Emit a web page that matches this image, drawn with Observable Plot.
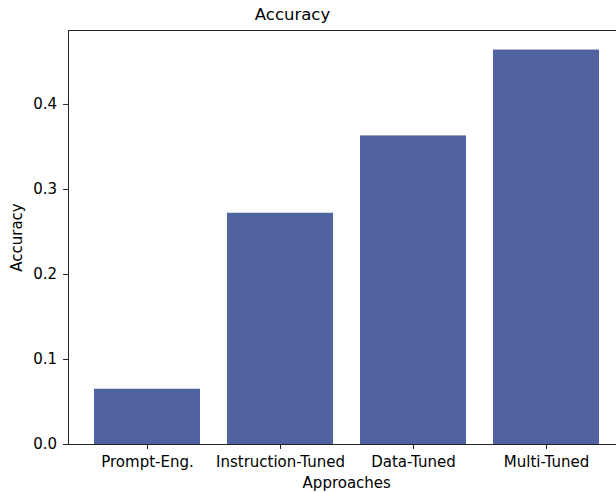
<!DOCTYPE html>
<html>
<head>
<meta charset="utf-8">
<script src="https://cdn.jsdelivr.net/npm/d3@7"></script>
<script src="https://cdn.jsdelivr.net/npm/@observablehq/plot@0.6"></script>
<style>
  html, body { margin: 0; padding: 0; background: white; overflow: hidden; }
  #chart { width: 616px; height: 492px; overflow: hidden; }
</style>
</head>
<body>
<div id="chart"></div>
<script>
const approaches = ["Prompt-Eng.", "Instruction-Tuned", "Data-Tuned", "Multi-Tuned"];
const accuracy = [0.065, 0.272, 0.363, 0.464];
const yTicks = [0.0, 0.1, 0.2, 0.3, 0.4];

const data = approaches.map((a, i) => ({approach: a, accuracy: accuracy[i]}));
const font = "DejaVu Sans, sans-serif";

const chart = Plot.plot({
  width: 616,
  height: 492,
  marginLeft: 68,
  marginRight: -8.5,
  marginTop: 30,
  marginBottom: 48,
  style: {fontFamily: font, fontSize: "15px", color: "black", background: "white", overflow: "hidden"},
  x: {type: "band", domain: approaches, paddingInner: 0.2, paddingOuter: 0.19, label: null},
  y: {domain: [0, 0.487], label: null},
  marks: [
    Plot.barY(data, {x: "approach", y: "accuracy", fill: "#5162a0"}),
    Plot.frame({stroke: "#222", strokeWidth: 1}),
    Plot.axisX({tickSize: 5, tickPadding: 7, fontSize: 15, label: null, stroke: "#222"}),
    Plot.axisY({ticks: yTicks, tickFormat: d3.format(".1f"), tickSize: 5, tickPadding: 6.5, fontSize: 15, label: null, stroke: "#222"}),
    Plot.text(["Accuracy"], {frameAnchor: "top-left", dx: 224, dy: -15.5, lineAnchor: "middle", textAnchor: "middle", fontSize: 16.5, fill: "black"}),
    Plot.text(["Approaches"], {frameAnchor: "bottom", dy: 38.7, lineAnchor: "middle", textAnchor: "middle", fontSize: 15, fill: "black"}),
    Plot.text(["Accuracy"], {frameAnchor: "left", dx: -51, rotate: -90, lineAnchor: "middle", textAnchor: "middle", fontSize: 15, fill: "black"})
  ]
});
document.getElementById("chart").appendChild(chart);
</script>
</body>
</html>
